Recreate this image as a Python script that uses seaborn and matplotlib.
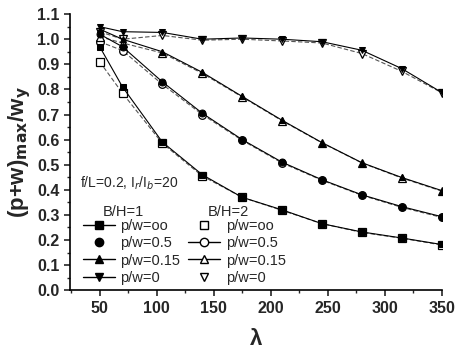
import matplotlib
matplotlib.use("Agg")
import matplotlib.pyplot as plt
from matplotlib.lines import Line2D
from matplotlib.ticker import MultipleLocator
import seaborn as sns
import pandas as pd

lam = [50, 70, 105, 140, 175, 210, 245, 280, 315, 350]

# B/H = 1 (filled markers)
bh1_inf = [0.97, 0.81, 0.59, 0.46, 0.37, 0.32, 0.265, 0.232, 0.208, 0.182]
bh1_05 = [1.02, 0.97, 0.83, 0.705, 0.60, 0.51, 0.44, 0.38, 0.333, 0.293]
bh1_015 = [1.04, 1.00, 0.95, 0.868, 0.772, 0.677, 0.588, 0.508, 0.449, 0.397]
bh1_0 = [1.05, 1.03, 1.027, 1.0, 1.005, 1.0, 0.99, 0.956, 0.883, 0.788]

# B/H = 2 (open markers)
bh2_inf = [0.91, 0.785, 0.585, 0.455, 0.37, 0.318, 0.265, 0.23, 0.207, 0.18]
bh2_05 = [0.99, 0.955, 0.82, 0.70, 0.597, 0.507, 0.438, 0.378, 0.33, 0.29]
bh2_015 = [1.01, 0.985, 0.945, 0.864, 0.77, 0.675, 0.587, 0.507, 0.447, 0.395]
bh2_0 = [1.03, 1.0, 1.015, 0.996, 1.0, 0.993, 0.985, 0.943, 0.872, 0.787]

labels = ["p/w=oo", "p/w=0.5", "p/w=0.15", "p/w=0"]
markers = ["s", "o", "^", "v"]

sns.set_style("ticks")
plt.rcParams['font.family'] = ['Liberation Sans', 'DejaVu Sans']

fig = plt.figure(figsize=(4.61, 3.53), dpi=100)
ax = fig.add_axes([0.152, 0.178, 0.806, 0.782])

series1 = [bh1_inf, bh1_05, bh1_015, bh1_0]
series2 = [bh2_inf, bh2_05, bh2_015, bh2_0]

for vals, m in zip(series2, markers):
    df = pd.DataFrame({"x": lam, "y": vals})
    sns.lineplot(data=df, x="x", y="y", ax=ax, color="#555555", lw=0.8,
                 linestyle=(0, (4, 2)), marker=m, markersize=5.5,
                 markerfacecolor="white", markeredgecolor="black",
                 markeredgewidth=0.9, legend=False)
for vals, m in zip(series1, markers):
    df = pd.DataFrame({"x": lam, "y": vals})
    sns.lineplot(data=df, x="x", y="y", ax=ax, color="black", lw=0.8,
                 marker=m, markersize=5, markerfacecolor="black",
                 markeredgecolor="black", legend=False)

ax.set_xlim(24, 350)
ax.set_ylim(0, 1.1)
ax.xaxis.set_major_locator(MultipleLocator(50))
ax.xaxis.set_minor_locator(MultipleLocator(25))
ax.yaxis.set_major_locator(MultipleLocator(0.1))
ax.yaxis.set_minor_locator(MultipleLocator(0.05))
ax.yaxis.set_major_formatter(matplotlib.ticker.FormatStrFormatter("%.1f"))
ax.set_xticks([50, 100, 150, 200, 250, 300, 350])
ax.tick_params(which="major", direction="out", length=4, width=1.2,
               labelsize=11.5)
ax.tick_params(which="minor", direction="out", length=2.5, width=1)
for lab in ax.get_xticklabels() + ax.get_yticklabels():
    lab.set_fontweight("bold")
sns.despine(ax=ax)
for s in ["left", "bottom"]:
    ax.spines[s].set_linewidth(1.2)
    ax.spines[s].set_color("black")

ax.set_xlabel("λ", fontsize=16, fontweight="bold", labelpad=10)
ax.set_ylabel(r"(p+w)$_{\mathbf{max}}$/w$_{\mathbf{y}}$", fontsize=16,
              fontweight="bold", labelpad=3)

ax.text(0.027, 0.388, r"f/L=0.2, I$_r$/I$_b$=20", transform=ax.transAxes,
        fontsize=10, va="center", ha="left")

blank = Line2D([], [], linestyle="none", marker=None)
h1 = [blank]
h1.append(Line2D([], [], color="black", lw=1, marker="s", markersize=6))
h1.append(Line2D([], [], color="black", lw=0, marker="o", markersize=6))
h1.append(Line2D([], [], color="black", lw=1, marker="^", markersize=6))
h1.append(Line2D([], [], color="black", lw=1, marker="v", markersize=6))
h2 = [blank]
h2.append(Line2D([], [], color="black", lw=0, marker="s", markersize=6,
                 markerfacecolor="white"))
h2.append(Line2D([], [], color="black", lw=1, marker="o", markersize=6,
                 markerfacecolor="white"))
h2.append(Line2D([], [], color="black", lw=1, marker="^", markersize=6,
                 markerfacecolor="white"))
h2.append(Line2D([], [], color="black", lw=0, marker="v", markersize=6,
                 markerfacecolor="white"))
labs = ["B/H=1"] + labels + ["B/H=2"] + labels
leg = ax.legend(h1 + h2, labs, ncol=2, loc="lower left",
                bbox_to_anchor=(0.01, -0.012), frameon=False, fontsize=10.5,
                handlelength=2.2, handletextpad=0.4, columnspacing=0.5,
                labelspacing=0.22, borderaxespad=0.2)
for t in leg.get_texts():
    if t.get_text().startswith("B/H"):
        t.set_position((-18, -3))

fig.savefig("out.png", dpi=100)
